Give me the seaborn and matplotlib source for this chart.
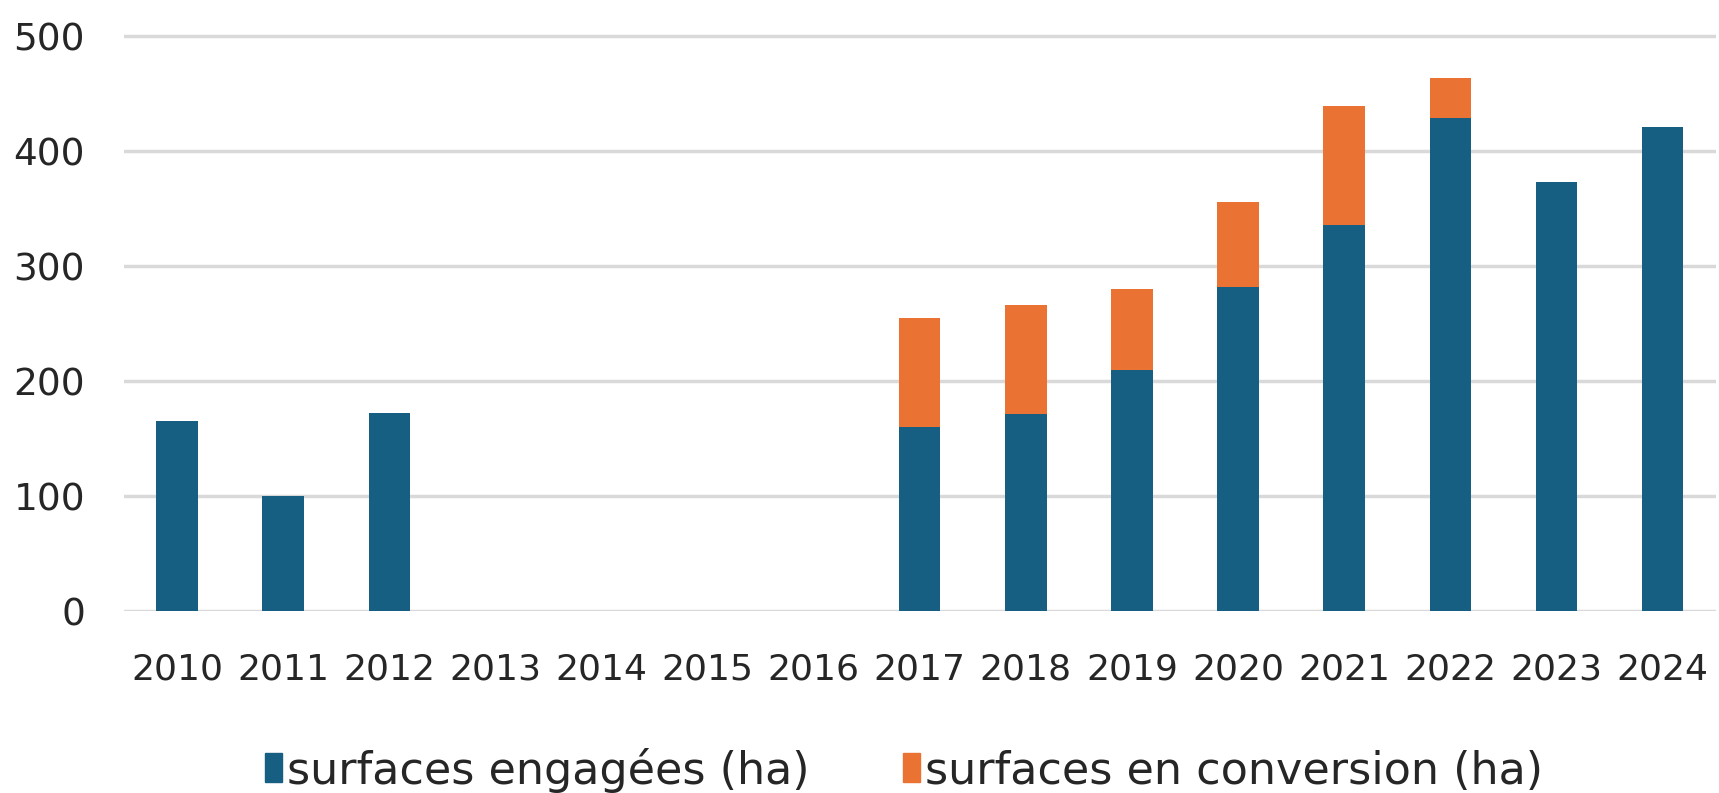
import pandas as pd
import matplotlib
matplotlib.use("Agg")
import matplotlib.pyplot as plt
import matplotlib.patches as mpatches
import seaborn as sns

# Values (ha)
years = [str(y) for y in range(2010, 2025)]
engaged = [165, 100, 172, 0, 0, 0, 0, 160, 171, 210, 282, 336, 429, 373, 421]
conversion = [0, 0, 0, 0, 0, 0, 0, 95, 95, 70, 74, 103, 35, 0, 0]

blue = "#175f82"
orange = "#ea7233"
grid_color = "#d9d9d9"
text_color = "#262626"

df = pd.DataFrame({"year": years, "engaged": engaged, "conversion": conversion})
df["total"] = df["engaged"] + df["conversion"]

sns.set_style("white")
plt.rcParams["font.family"] = ["DejaVu Sans"]

fig = plt.figure(figsize=(17.19, 7.93), dpi=100)
ax = fig.add_axes([0.0721, 0.2295, 0.9259, 0.7275])

# stacked look: total in orange underneath, engaged in blue on top
sns.barplot(data=df, x="year", y="total", order=years, color=orange,
            width=0.39, saturation=1, linewidth=0, ax=ax, zorder=3)
sns.barplot(data=df, x="year", y="engaged", order=years, color=blue,
            width=0.39, saturation=1, linewidth=0, ax=ax, zorder=4)

ax.set_ylim(0, 502)
ax.set_xlim(-0.5, len(years) - 0.5)
ax.set_yticks([0, 100, 200, 300, 400, 500])
ax.yaxis.grid(True, color=grid_color, linewidth=2.5, zorder=0)
ax.set_axisbelow(True)
for s in ax.spines.values():
    s.set_visible(False)
ax.set_xlabel("")
ax.set_ylabel("")
ax.tick_params(axis="x", length=0, labelsize=26, labelcolor=text_color, pad=30)
ax.tick_params(axis="y", length=0, labelsize=27, labelcolor=text_color, pad=28)

handles = [mpatches.Patch(color=blue, label="surfaces engagées (ha)"),
           mpatches.Patch(color=orange, label="surfaces en conversion (ha)")]
fig.legend(handles=handles, loc="center", bbox_to_anchor=(0.526, 0.029),
           ncol=2, frameon=False, fontsize=32, handlelength=0.37,
           handleheight=0.62, handletextpad=0.12, columnspacing=2.1,
           labelcolor=text_color)

fig.savefig("out.png", dpi=100)
